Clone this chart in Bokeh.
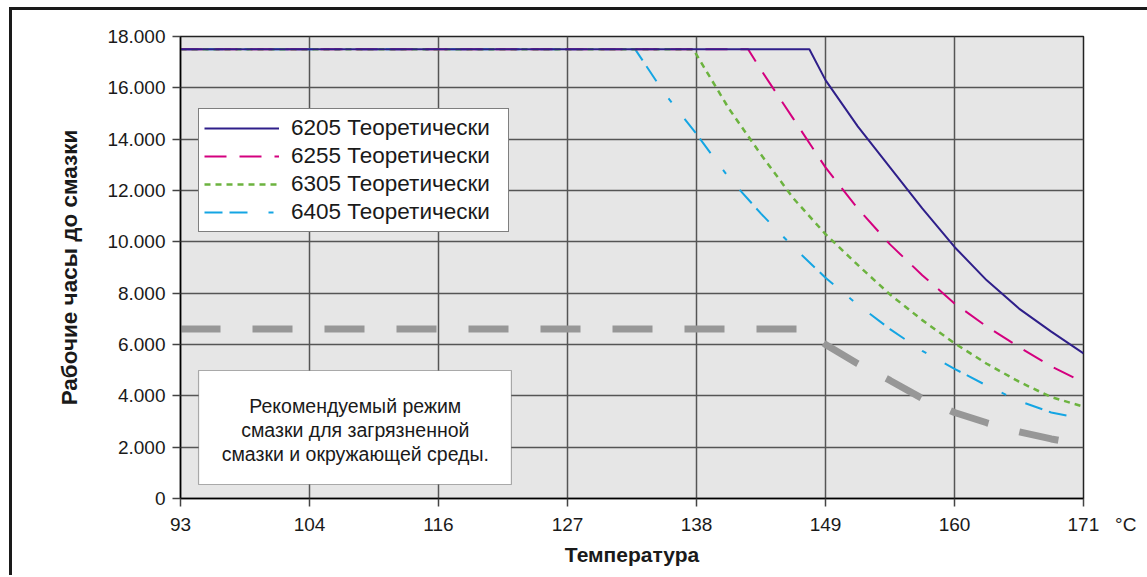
from bokeh.plotting import figure
from bokeh.models import (Range1d, FixedTicker, Legend, LegendItem, Label, BoxAnnotation)
from bokeh.embed import file_html
from bokeh.resources import INLINE

# x positions are in °F (evenly spaced), labelled in °C
x_ticks = [200, 220, 240, 260, 280, 300, 320, 340]
x_tick_labels = ["93", "104", "116", "127", "138", "149", "160", "171"]
x_unit = "°C"
y_ticks = [0, 2000, 4000, 6000, 8000, 10000, 12000, 14000, 16000, 18000]

names = ["6205 Теоретически", "6255 Теоретически", "6305 Теоретически", "6405 Теоретически"]

x_6205 = [200, 297.5, 300, 305, 310, 315, 320, 325, 330, 335, 340]
y_6205 = [17500, 17500, 16300, 14500, 12900, 11300, 9800, 8500, 7400, 6500, 5650]

x_6255 = [200, 288, 290, 295, 300, 305, 310, 315, 320, 325, 330, 335, 340]
y_6255 = [17500, 17500, 16700, 14800, 12900, 11300, 9900, 8700, 7600, 6700, 5900, 5150, 4520]

x_6305 = [200, 279.5, 285, 290, 295, 300, 305, 310, 315, 320, 325, 330, 335, 340]
y_6305 = [17500, 17500, 15200, 13400, 11700, 10300, 9100, 7950, 6950, 6050, 5250, 4550, 3950, 3580]

x_6405 = [200, 270.5, 275, 280, 285, 290, 295, 300, 305, 310, 315, 320, 325, 330, 335, 340]
y_6405 = [17500, 17500, 15800, 14200, 12500, 11100, 9800, 8600, 7550, 6600, 5750, 5050, 4400, 3800, 3350, 3100]

x_rec = [200, 297, 300, 305, 310, 315, 320, 325, 330, 335, 340]
y_rec = [6600, 6600, 6000, 5250, 4600, 3900, 3350, 2950, 2600, 2320, 2100]

note_lines = ["Рекомендуемый режим", "смазки для загрязненной", "смазки и окружающей среды."]

FONT = "Liberation Sans"
NB = "\u00a0"

p = figure(frame_width=903, frame_height=462, output_backend="svg", toolbar_location=None,
           x_range=Range1d(200, 340), y_range=Range1d(0, 18000),
           min_border_left=168, min_border_top=26, min_border_right=64, min_border_bottom=77,
           background_fill_color="#e6e6e6", border_fill_color="white")
p.styles = {"border-left": "3px solid #1a1a1a", "border-top": "3px solid #1a1a1a",
            "margin-left": "9px", "margin-top": "7px"}
p.outline_line_color = "#222222"
p.outline_line_width = 1.5

# grid
p.xgrid.ticker = FixedTicker(ticks=x_ticks)
p.ygrid.ticker = FixedTicker(ticks=y_ticks)
for g in (p.xgrid, p.ygrid):
    g.grid_line_color = "#555555"
    g.grid_line_width = 1.5

# axes
p.xaxis.ticker = FixedTicker(ticks=x_ticks)
overrides = {t: l for t, l in zip(x_ticks, x_tick_labels)}
# last tick carries the unit, padded so that the number stays centred on its tick
overrides[x_ticks[-1]] = NB * 7 + x_tick_labels[-1] + NB * 3 + x_unit
p.xaxis.major_label_overrides = overrides
p.yaxis.ticker = FixedTicker(ticks=y_ticks)
p.yaxis.major_label_overrides = {t: (f"{t:,}".replace(",", ".")) for t in y_ticks}
for ax in (p.xaxis[0], p.yaxis[0]):
    ax.axis_line_color = "black"
    ax.axis_line_width = 1.5
    ax.major_tick_line_color = "#444444"
    ax.major_tick_line_width = 1.5
    ax.major_tick_in = 0
    ax.major_tick_out = 8
    ax.minor_tick_line_color = None
    ax.major_label_text_font = FONT
    ax.major_label_text_font_size = "19px"
    ax.major_label_text_color = "#1a1a1a"
    ax.axis_label_text_font = FONT
    ax.axis_label_text_font_style = "bold"
    ax.axis_label_text_color = "#1a1a1a"
p.xaxis.axis_label_text_font_size = "21px"
p.yaxis.axis_label_text_font_size = "22.5px"
p.xaxis.axis_label = "Температура"
p.yaxis.axis_label = "Рабочие часы до смазки"
p.xaxis.major_label_standoff = 7
p.xaxis.axis_label_standoff = 5
p.yaxis.major_label_standoff = 7
p.yaxis.axis_label_standoff = 22

# recommended (grey thick dashed)
p.line(x_rec, y_rec, line_color="#979797", line_width=7, line_dash="40 32")

r4 = p.line(x_6405, y_6405, line_color="#14a5e3", line_width=2, line_dash="18 7 18 21 5 21")
r3 = p.line(x_6305, y_6305, line_color="#6cb33f", line_width=2.5, line_dash="6 5")
r2 = p.line(x_6255, y_6255, line_color="#d4007f", line_width=2, line_dash="22 13")
r1 = p.line(x_6205, y_6205, line_color="#2f1f8a", line_width=2)

legend = Legend(items=[LegendItem(label=names[0], renderers=[r1]),
                       LegendItem(label=names[1], renderers=[r2]),
                       LegendItem(label=names[2], renderers=[r3]),
                       LegendItem(label=names[3], renderers=[r4])],
                location=(18, 266), margin=0, padding=5, spacing=0,
                glyph_width=75, glyph_height=28, label_height=28, label_width=212,
                label_standoff=12,
                label_text_font=FONT, label_text_font_size="22.5px", label_text_color="#1a1a1a",
                border_line_color="black", border_line_width=1.2,
                background_fill_color="white", background_fill_alpha=1)
p.add_layout(legend, "center")

# note box
box = BoxAnnotation(left=202.8, right=251.3, bottom=545, top=4987,
                    fill_color="white", fill_alpha=1, line_color="black", line_width=1.2)
p.add_layout(box)
for i, txt in enumerate(note_lines):
    p.add_layout(Label(x=227.1, y=3623 - i * 935, text=txt, text_align="center",
                       text_baseline="middle", text_font=FONT, text_font_size="19.5px",
                       text_color="#1a1a1a"))

open("out.html", "w").write(file_html(p, INLINE))
